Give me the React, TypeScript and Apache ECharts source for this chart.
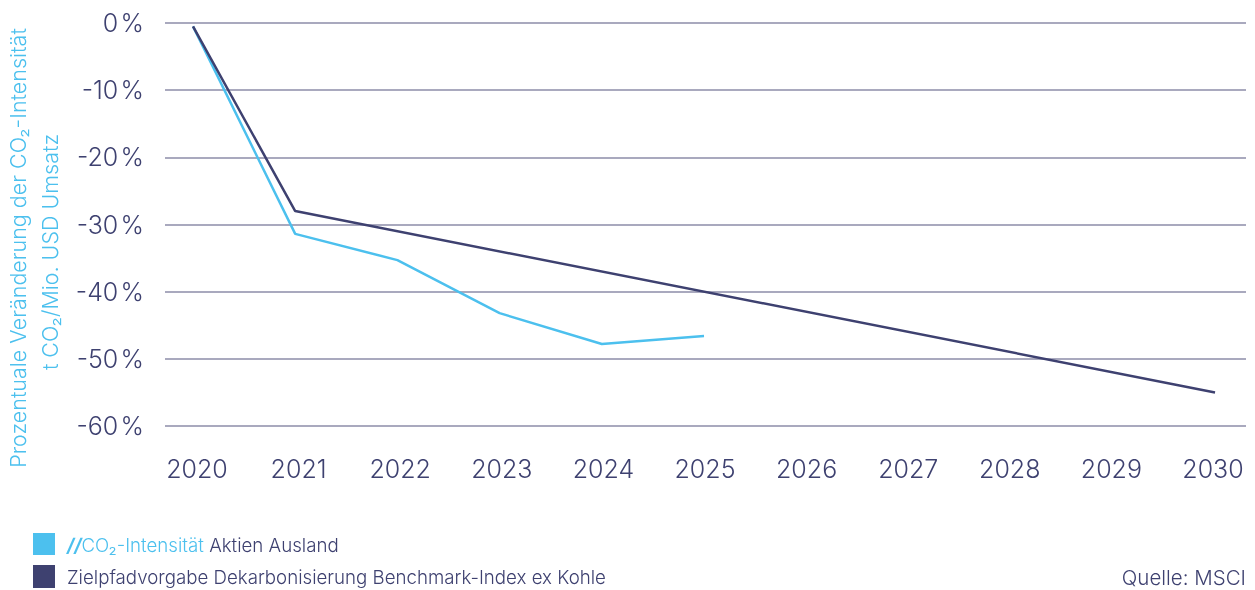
import React, { useEffect, useRef } from "react";
import * as echarts from "echarts";

const yearLabels = [2020, 2021, 2022, 2023, 2024, 2025, 2026, 2027, 2028, 2029, 2030];
const intensityYears = [2020, 2021, 2022, 2023, 2024, 2025];
const intensityValues = [-0.5, -31.4, -35.3, -43.2, -47.8, -46.6];
const targetYears = [2020, 2021, 2030];
const targetValues = [-0.5, -28.0, -55.0];
const yTicks = { min: -60, max: 0, interval: 10 };

const LIGHT = "#4cc0ee";
const DARK = "#3e4170";
const GRID = "#8d8ca9";
const FONT = "Inter";

export default function App() {
  const ref = useRef<HTMLDivElement>(null);
  useEffect(() => {
    if (!ref.current) return;
    const chart = echarts.init(ref.current, null, { renderer: "svg" });
    chart.setOption({
      animation: false,
      textStyle: { fontFamily: FONT },
      grid: { left: 165, right: 9, top: 23, height: 403 },
      xAxis: [
        {
          type: "value",
          min: 2019.726,
          max: 2030.303,
          position: "bottom",
          axisLine: { show: false },
          axisTick: { show: false },
          axisLabel: { show: false },
          splitLine: { show: false },
        },
        {
          type: "value",
          min: 2019.685,
          max: 2030.325,
          position: "bottom",
          offset: 0,
          axisLine: { show: false },
          axisTick: { show: false },
          splitLine: { show: false },
          axisLabel: {
            customValues: yearLabels,
            formatter: (v: number) => String(v),
            color: DARK,
            fontSize: 25,
            fontFamily: FONT,
            fontWeight: 300,
            margin: 30,
          },
        },
      ],
      yAxis: {
        type: "value",
        min: yTicks.min,
        max: yTicks.max,
        interval: yTicks.interval,
        axisLine: { show: false },
        axisTick: { show: false },
        splitLine: { lineStyle: { color: GRID, width: 1.5 } },
        axisLabel: {
          formatter: (v: number) => v + "\u200A%",
          color: DARK,
          fontSize: 25,
          fontFamily: FONT,
          fontWeight: 300,
          margin: 21,
        },
      },
      series: [
        {
          type: "line",
          xAxisIndex: 0,
          showSymbol: false,
          data: intensityYears.map((y, i) => [y, intensityValues[i]]),
          lineStyle: { color: LIGHT, width: 2.5 },
          itemStyle: { color: LIGHT },
        },
        {
          type: "line",
          xAxisIndex: 0,
          showSymbol: false,
          data: targetYears.map((y, i) => [y, targetValues[i]]),
          lineStyle: { color: DARK, width: 2.5 },
          itemStyle: { color: DARK },
        },
      ],
      graphic: [
        {
          type: "text",
          x: 18,
          y: 248,
          rotation: Math.PI / 2,
          style: {
            text: "Prozentuale Veränderung der CO₂-Intensität",
            fill: LIGHT,
            fontSize: 21.5,
            fontFamily: FONT,
            fontWeight: 300,
            align: "center",
            verticalAlign: "middle",
          },
        },
        {
          type: "text",
          x: 50,
          y: 252,
          rotation: Math.PI / 2,
          style: {
            text: "t CO₂/Mio. USD Umsatz",
            fill: LIGHT,
            fontSize: 21.5,
            fontFamily: FONT,
            fontWeight: 300,
            align: "center",
            verticalAlign: "middle",
          },
        },
        {
          type: "rect",
          shape: { x: 33, y: 533, width: 22, height: 22 },
          style: { fill: LIGHT },
        },
        {
          type: "rect",
          shape: { x: 33, y: 565, width: 22, height: 23 },
          style: { fill: DARK },
        },
        {
          type: "text",
          x: 67,
          y: 545,
          style: {
            text: "{s|//}{l|CO₂-Intensität} {d|Aktien Ausland}",
            verticalAlign: "middle",
            fontSize: 18.7,
            fontFamily: FONT,
            rich: {
              s: { fill: LIGHT, fontSize: 18.7, fontWeight: "bold", fontStyle: "italic", fontFamily: FONT },
              l: { fill: LIGHT, fontSize: 18.7, fontWeight: 300, fontFamily: FONT },
              d: { fill: DARK, fontSize: 18.7, fontWeight: 300, fontFamily: FONT },
            },
          },
        },
        {
          type: "text",
          x: 67,
          y: 577,
          style: {
            text: "Zielpfadvorgabe Dekarbonisierung Benchmark-Index ex Kohle",
            fill: DARK,
            fontSize: 18.7,
            fontFamily: FONT,
            fontWeight: 300,
            verticalAlign: "middle",
          },
        },
        {
          type: "text",
          x: 1246,
          y: 577,
          style: {
            text: "Quelle: MSCI",
            fill: DARK,
            fontSize: 20.5,
            fontFamily: FONT,
            fontWeight: 300,
            align: "right",
            verticalAlign: "middle",
          },
        },
      ],
    });
    return () => chart.dispose();
  }, []);
  return (
    <div
      ref={ref}
      style={{ position: "fixed", left: 0, top: 0, width: 1255, height: 590 }}
    />
  );
}
